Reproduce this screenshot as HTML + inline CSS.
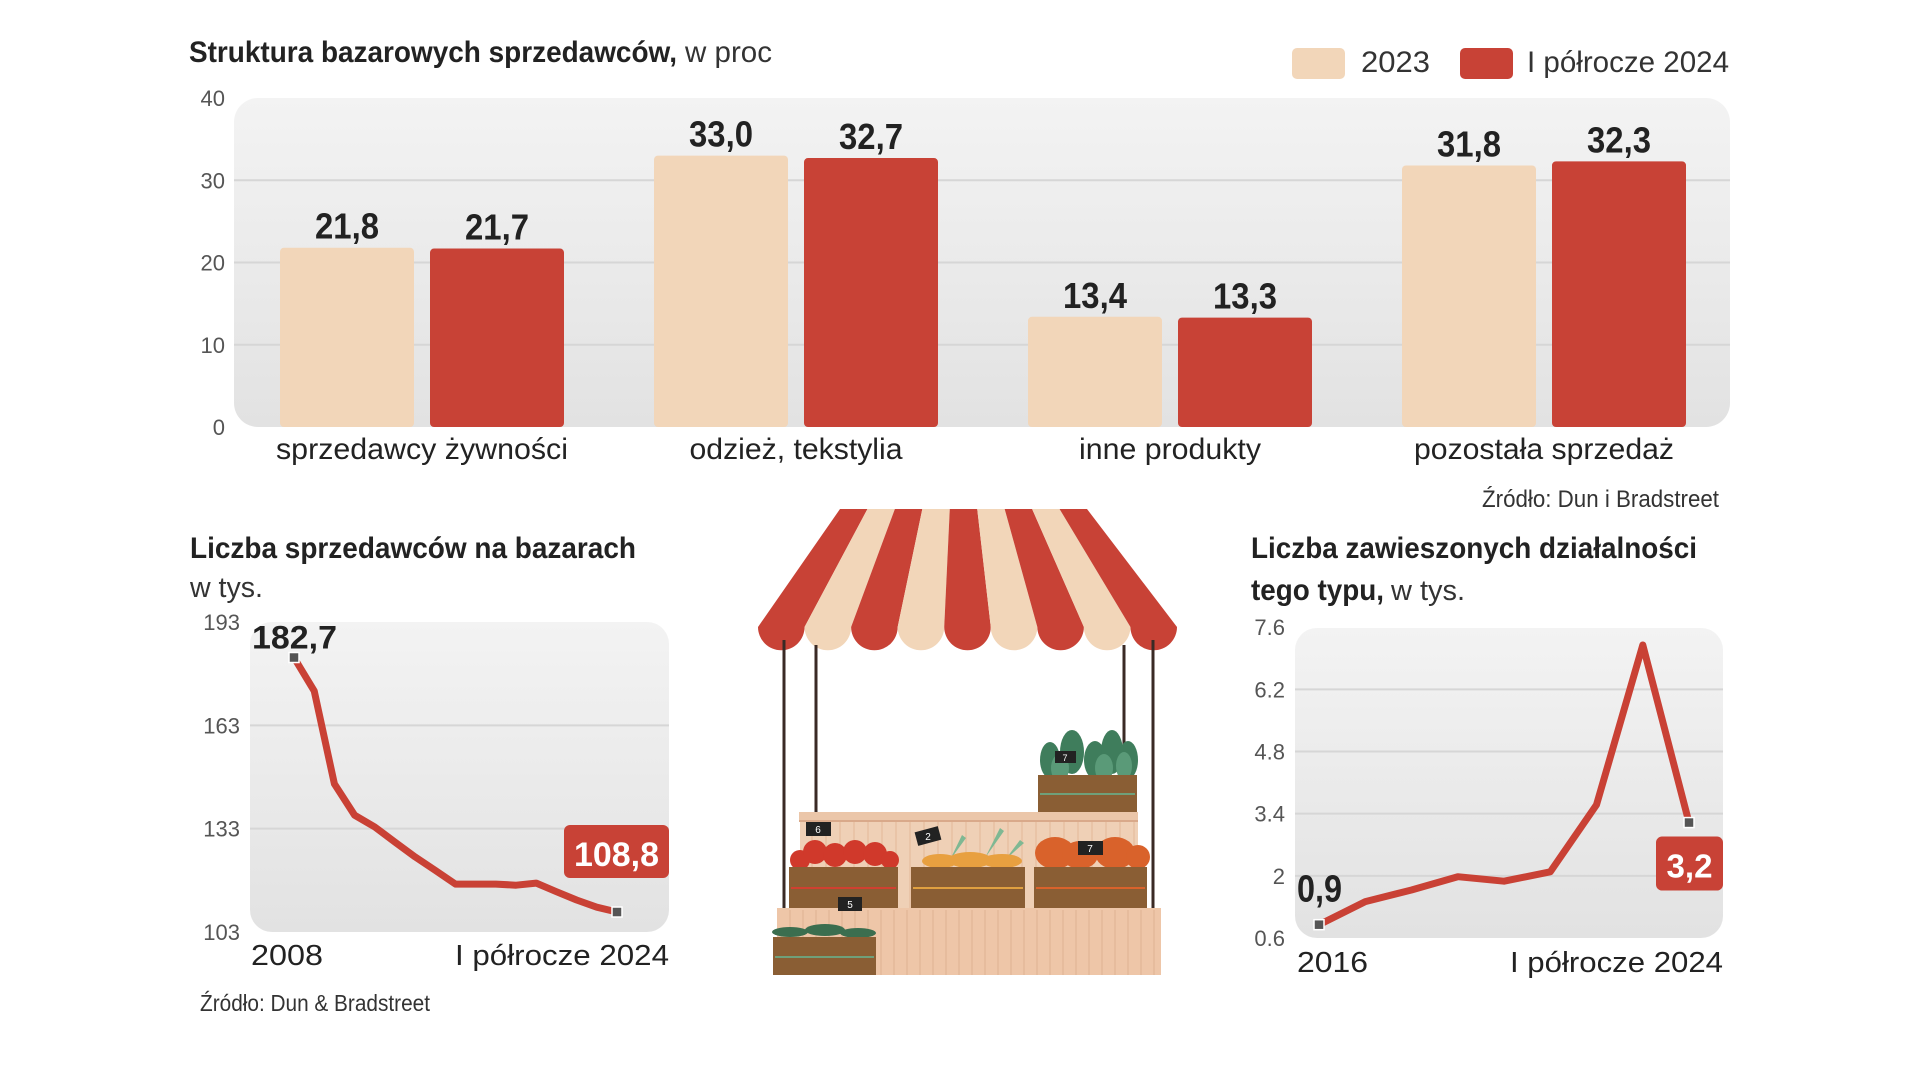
<!DOCTYPE html>
<html><head><meta charset="utf-8">
<style>
html,body{margin:0;padding:0;background:#fff;}
svg{display:block;}
text{font-family:"Liberation Sans Narrow","Liberation Sans",sans-serif;}
</style></head>
<body>
<svg id="root" width="1920" height="1080" viewBox="0 0 1920 1080" xmlns="http://www.w3.org/2000/svg">
<defs>
<linearGradient id="bg" x1="0" y1="0" x2="0" y2="1"><stop offset="0" stop-color="#f3f3f3"/><stop offset="1" stop-color="#e2e2e2"/></linearGradient>
</defs>
<rect width="1920" height="1080" fill="#fff"/>

<!-- TOP CHART -->
<text x="189" y="62" font-size="30" font-weight="bold" fill="#222" textLength="488" lengthAdjust="spacingAndGlyphs">Struktura bazarowych sprzedawców,</text>
<text x="685" y="62" font-size="30" fill="#333" textLength="87" lengthAdjust="spacingAndGlyphs">w proc</text>
<rect x="1292" y="48" width="53" height="31" rx="5" fill="#f2d6b9"/>
<text x="1361" y="72" font-size="30" fill="#333" textLength="69" lengthAdjust="spacingAndGlyphs">2023</text>
<rect x="1460" y="48" width="53" height="31" rx="5" fill="#c84236"/>
<text x="1527" y="72" font-size="30" fill="#333" textLength="202" lengthAdjust="spacingAndGlyphs">I półrocze 2024</text>
<rect x="234" y="98" width="1496" height="329" rx="24" fill="url(#bg)"/>
<g id="barGrid"></g>
<g id="bars"></g>
<text x="1482" y="507" font-size="24" fill="#333" textLength="237" lengthAdjust="spacingAndGlyphs">Źródło: Dun i Bradstreet</text>

<!-- BOTTOM LEFT -->
<text x="190" y="558" font-size="30" font-weight="bold" fill="#222" textLength="446" lengthAdjust="spacingAndGlyphs">Liczba sprzedawców na bazarach</text>
<text x="190" y="597" font-size="29" fill="#333" textLength="73" lengthAdjust="spacingAndGlyphs">w tys.</text>
<rect x="250" y="622" width="419" height="310" rx="22" fill="url(#bg)"/>
<g id="leftChart"></g>
<text x="251" y="965" font-size="29" fill="#222" textLength="72" lengthAdjust="spacingAndGlyphs">2008</text>
<text x="455" y="965" font-size="29" fill="#222" textLength="214" lengthAdjust="spacingAndGlyphs">I półrocze 2024</text>
<text x="200" y="1011" font-size="23" fill="#333" textLength="230" lengthAdjust="spacingAndGlyphs">Źródło: Dun &amp; Bradstreet</text>

<!-- BOTTOM RIGHT -->
<text x="1251" y="558" font-size="30" font-weight="bold" fill="#222" textLength="446" lengthAdjust="spacingAndGlyphs">Liczba zawieszonych działalności</text>
<text x="1251" y="600" font-size="30" font-weight="bold" fill="#222" textLength="133" lengthAdjust="spacingAndGlyphs">tego typu,</text>
<text x="1391" y="600" font-size="29" fill="#333" textLength="74" lengthAdjust="spacingAndGlyphs">w tys.</text>
<rect x="1295" y="628" width="428" height="310" rx="22" fill="url(#bg)"/>
<g id="rightChart"></g>
<text x="1297" y="972" font-size="29" fill="#222" textLength="71" lengthAdjust="spacingAndGlyphs">2016</text>
<text x="1510" y="972" font-size="29" fill="#222" textLength="213" lengthAdjust="spacingAndGlyphs">I półrocze 2024</text>

<!-- MARKET STALL ILLUSTRATION -->
<g>
  <g id="awning"></g>
  <g stroke="#3a2a25" stroke-width="3">
    <line x1="784" y1="640" x2="784" y2="910"/><line x1="1153" y1="640" x2="1153" y2="910"/>
    <line x1="816" y1="645" x2="816" y2="813"/><line x1="1124" y1="645" x2="1124" y2="775"/>
  </g>
  <rect x="800" y="820" width="338" height="88" fill="#efd0b6"/>
  <g id="backSlats"></g>
  <rect x="799" y="812" width="339" height="9" fill="#ebc6a9"/>
  <rect x="799" y="820" width="339" height="2" fill="#d9a98a"/>
  <rect x="777" y="908" width="384" height="67" fill="#eec6a8"/>
  <g id="frontSlats"></g>
  <!-- greens -->
  <g fill="#3f7d5c"><ellipse cx="1050" cy="760" rx="10" ry="18"/><ellipse cx="1072" cy="752" rx="12" ry="22"/><ellipse cx="1095" cy="760" rx="11" ry="19"/><ellipse cx="1112" cy="752" rx="11" ry="22"/><ellipse cx="1128" cy="760" rx="10" ry="19"/></g>
  <g fill="#5a9a78"><ellipse cx="1060" cy="768" rx="9" ry="14"/><ellipse cx="1104" cy="768" rx="9" ry="14"/><ellipse cx="1124" cy="766" rx="8" ry="14"/></g>
  <rect x="1038" y="775" width="99" height="37" fill="#8a5e34"/><rect x="1040" y="793" width="95" height="2" fill="#6fa07a"/>
  <rect x="1055" y="751" width="21" height="12" fill="#222"/><text x="1065" y="761" font-size="9" fill="#fff" text-anchor="middle">7</text>
  <!-- tomatoes -->
  <g fill="#d0392b"><circle cx="800" cy="860" r="10"/><circle cx="815" cy="852" r="12"/><circle cx="835" cy="855" r="12"/><circle cx="855" cy="852" r="12"/><circle cx="875" cy="854" r="12"/><circle cx="890" cy="860" r="9"/></g>
  <rect x="789" y="867" width="109" height="41" fill="#8a5e34"/><rect x="791" y="887" width="105" height="2" fill="#d04030"/>
  <rect x="806" y="822" width="25" height="14" fill="#222"/><text x="818" y="833" font-size="10" fill="#fff" text-anchor="middle">6</text>
  <!-- carrots -->
  <g fill="#7fb893"><path d="M950 860 l12 -25 l4 3z"/><path d="M985 858 l15 -30 l4 3z"/><path d="M1005 860 l15 -20 l4 3z"/></g>
  <g fill="#e8a040"><ellipse cx="940" cy="861" rx="18" ry="7"/><ellipse cx="970" cy="860" rx="22" ry="8"/><ellipse cx="1002" cy="861" rx="20" ry="7"/></g>
  <rect x="911" y="867" width="114" height="41" fill="#8a5e34"/><rect x="913" y="887" width="110" height="2" fill="#e0a040"/>
  <rect x="916" y="829" width="24" height="14" fill="#222" transform="rotate(-15 928 836)"/><text x="928" y="840" font-size="10" fill="#fff" text-anchor="middle">2</text>
  <!-- pumpkins -->
  <g fill="#d9622b"><ellipse cx="1055" cy="853" rx="20" ry="16"/><ellipse cx="1080" cy="855" rx="18" ry="14"/><ellipse cx="1115" cy="853" rx="20" ry="16"/><ellipse cx="1138" cy="857" rx="12" ry="12"/></g>
  <rect x="1034" y="867" width="113" height="41" fill="#8a5e34"/><rect x="1036" y="887" width="109" height="2" fill="#d9622b"/>
  <rect x="1078" y="841" width="25" height="14" fill="#222"/><text x="1090" y="852" font-size="10" fill="#fff" text-anchor="middle">7</text>
  <!-- cucumbers -->
  <g fill="#3b6e4f"><ellipse cx="790" cy="932" rx="18" ry="5"/><ellipse cx="825" cy="930" rx="20" ry="6"/><ellipse cx="858" cy="933" rx="18" ry="5"/></g>
  <rect x="773" y="937" width="103" height="38" fill="#8a5e34"/><rect x="775" y="956" width="99" height="2" fill="#6fa07a"/>
  <rect x="838" y="897" width="24" height="14" fill="#222"/><text x="850" y="908" font-size="10" fill="#fff" text-anchor="middle">5</text>
</g>
</svg>
<script>
// ---- Bar chart data ----
const barCategories = ["sprzedawcy żywności", "odzież, tekstylia", "inne produkty", "pozostała sprzedaż"];
const barLabelWidths = [292, 213, 182, 260];
const series2023 = [21.8, 33.0, 13.4, 31.8];
const series2024 = [21.7, 32.7, 13.3, 32.3];
const barTicks = [0, 10, 20, 30, 40];
// ---- Vendors line data (thousands), 2008 .. H1 2024 ----
const vendorValues = [182.7, 173.0, 146.0, 136.9, 133.5, 129.1, 124.8, 120.9, 116.9, 116.9, 116.9, 116.6, 117.2, 114.7, 112.3, 110.2, 108.8];
const vendorTicks = [103, 133, 163, 193];
// ---- Suspended line data (thousands), 2016 .. H1 2024 ----
const suspendedValues = [0.9, 1.42, 1.68, 1.98, 1.88, 2.09, 3.6, 7.2, 3.2];
const suspendedTicks = [0.6, 2, 3.4, 4.8, 6.2, 7.6];

const NS = "http://www.w3.org/2000/svg";
function mk(parent, tag, attrs, txt) {
  const e = document.createElementNS(NS, tag);
  for (const k in attrs) e.setAttribute(k, attrs[k]);
  if (txt !== undefined) e.textContent = txt;
  parent.appendChild(e);
  return e;
}
const fmt = v => v.toFixed(1).replace(".", ",");

// Bar chart
const yB = v => 427 - v * 8.225;
const xGroup = i => 280 + i * 374;
const gGrid = document.getElementById("barGrid");
barTicks.forEach(t => {
  if (t > 0 && t < 40) {
    const l = mk(gGrid, "line", {x1: 234, x2: 1730, y1: yB(t), y2: yB(t), stroke: "#d6d6d6", "stroke-width": 2});
    
    
  }
  const tl = mk(gGrid, "text", {x: 225, y: yB(t) + 8, "font-size": 22, fill: "#555", "text-anchor": "end"}, String(t));
  
  
});
const gBars = document.getElementById("bars");
barCategories.forEach((c, i) => {
  const x0 = xGroup(i);
  [[series2023[i], "#f2d6b9", 0, "bar-2023"], [series2024[i], "#c84236", 150, "bar-2024"]].forEach(([v, col, off, nm]) => {
    const r = mk(gBars, "rect", {x: x0 + off, y: yB(v), width: 134, height: 427 - yB(v), rx: 4, fill: col});
    
    
    const t = mk(gBars, "text", {x: x0 + off + 67, y: yB(v) - 9, "font-size": 36, "font-weight": "bold", fill: "#222", "text-anchor": "middle", textLength: 64, lengthAdjust: "spacingAndGlyphs"}, fmt(v));
    
    
  });
  const cl = mk(gBars, "text", {x: x0 + 142, y: 459, "font-size": 30, fill: "#222", "text-anchor": "middle", textLength: barLabelWidths[i], lengthAdjust: "spacingAndGlyphs"}, c);
  
  
});

// Generic line chart
function lineChart(gid, vals, ticks, xL, xR, yOf, gx1, gx2, tickX, prefix) {
  const g = document.getElementById(gid);
  ticks.forEach((t, k) => {
    if (k > 0 && k < ticks.length - 1) {
      const l = mk(g, "line", {x1: gx1, x2: gx2, y1: yOf(t), y2: yOf(t), stroke: "#d6d6d6", "stroke-width": 2});
      
      
    }
    const tl = mk(g, "text", {x: tickX, y: yOf(t) + 8, "font-size": 22, fill: "#555", "text-anchor": "end"}, String(t));
    
    
  });
  const xOf = i => xL + i * (xR - xL) / (vals.length - 1);
  const pts = vals.map((v, i) => xOf(i).toFixed(1) + "," + yOf(v).toFixed(1)).join(" ");
  const pl = mk(g, "polyline", {points: pts, fill: "none", stroke: "#c94135", "stroke-width": 7, "stroke-linejoin": "round"});
  
  
  [0, vals.length - 1].forEach(i => {
    const m = mk(g, "rect", {x: xOf(i) - 5, y: yOf(vals[i]) - 5, width: 10, height: 10, fill: "#555", stroke: "#fff", "stroke-width": 1.5});
    
    
  });
  return {g, xOf};
}

// Vendors
const yL = v => 932 - (v - 103) * 3.444;
const L = lineChart("leftChart", vendorValues, vendorTicks, 294, 617, yL, 250, 669, 240, "vendors");
const lFirst = mk(L.g, "text", {x: 252, y: yL(vendorValues[0]) - 9, "font-size": 32, "font-weight": "bold", fill: "#222", textLength: 85, lengthAdjust: "spacingAndGlyphs"}, fmt(vendorValues[0]));


const lastL = vendorValues[vendorValues.length - 1];
const lBox = mk(L.g, "rect", {x: 564, y: yL(lastL) - 87, width: 105, height: 53, rx: 6, fill: "#c84236"});


const lLast = mk(L.g, "text", {x: 616.5, y: yL(lastL) - 46, "font-size": 34, "font-weight": "bold", fill: "#fff", "text-anchor": "middle", textLength: 85, lengthAdjust: "spacingAndGlyphs"}, fmt(lastL));



// Suspended
const yR = v => 938 - (v - 0.6) * 44.4;
const R = lineChart("rightChart", suspendedValues, suspendedTicks, 1319, 1689, yR, 1295, 1723, 1285, "suspended");
const rFirst = mk(R.g, "text", {x: 1297, y: yR(suspendedValues[0]) - 23, "font-size": 38, "font-weight": "bold", fill: "#222", textLength: 45, lengthAdjust: "spacingAndGlyphs"}, fmt(suspendedValues[0]));


const lastR = suspendedValues[suspendedValues.length - 1];
const rBox = mk(R.g, "rect", {x: 1656, y: yR(lastR) + 14, width: 67, height: 54, rx: 6, fill: "#c84236"});


const rLast = mk(R.g, "text", {x: 1689.5, y: yR(lastR) + 55, "font-size": 33, "font-weight": "bold", fill: "#fff", "text-anchor": "middle", textLength: 46, lengthAdjust: "spacingAndGlyphs"}, fmt(lastR));



// Illustration awning & slats (decorative)
const aw = document.getElementById("awning");
const n = 9, botL = 758, botW = 419 / n, topL = 840, topW = 247 / n;
for (let i = 0; i < n; i++) {
  const tl = topL + i * topW, tr = tl + topW, bl = botL + i * botW, br = bl + botW;
  const r = botW / 2;
  mk(aw, "path", {d: `M${tl},509 L${tr},509 L${br},627 A${r},${r} 0 0 1 ${bl},627 Z`, fill: i % 2 === 0 ? "#c84236" : "#f2d6b9"});
}
const bs = document.getElementById("backSlats");
for (let x = 812; x < 1138; x += 14) mk(bs, "line", {x1: x, x2: x, y1: 822, y2: 908, stroke: "#e3b898", "stroke-width": 1});
const fs = document.getElementById("frontSlats");
for (let x = 790; x < 1161; x += 13) mk(fs, "line", {x1: x, x2: x, y1: 910, y2: 975, stroke: "#dfb292", "stroke-width": 1});
</script>
</body></html>
